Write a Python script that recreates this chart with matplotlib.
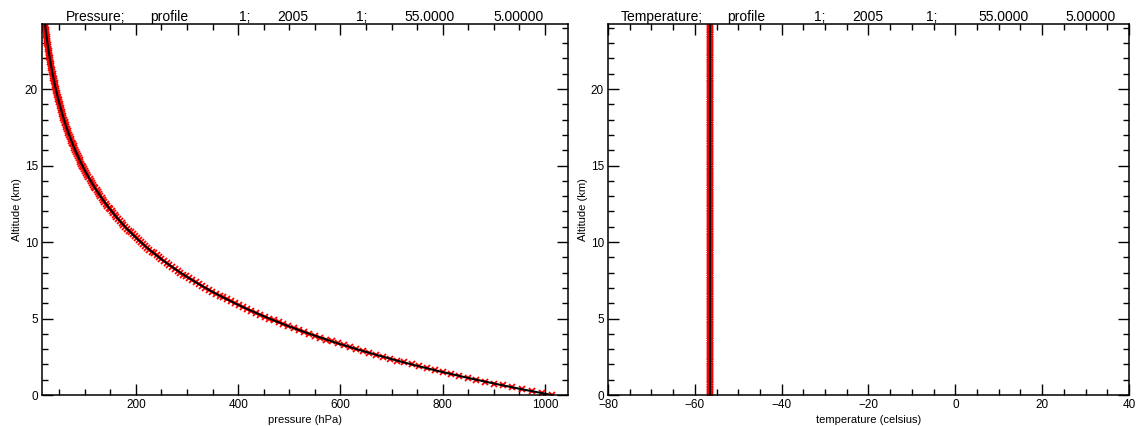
import matplotlib
matplotlib.use("Agg")
import matplotlib.pyplot as plt
from matplotlib.ticker import MultipleLocator

plt.rcParams['font.family'] = ['Liberation Sans', 'DejaVu Sans']

# profile levels (km)
altitude = [0.0, 0.125, 0.25, 0.375, 0.5, 0.625, 0.75, 0.875,
            1.0, 1.125, 1.25, 1.375, 1.5, 1.625, 1.75, 1.875,
            2.0, 2.125, 2.25, 2.375, 2.5, 2.625, 2.75, 2.875,
            3.0, 3.125, 3.25, 3.375, 3.5, 3.625, 3.75, 3.875,
            4.0, 4.125, 4.25, 4.375, 4.5, 4.625, 4.75, 4.875,
            5.0, 5.125, 5.25, 5.375, 5.5, 5.625, 5.75, 5.875,
            6.0, 6.125, 6.25, 6.375, 6.5, 6.625, 6.75, 6.875,
            7.0, 7.125, 7.25, 7.375, 7.5, 7.625, 7.75, 7.875,
            8.0, 8.125, 8.25, 8.375, 8.5, 8.625, 8.75, 8.875,
            9.0, 9.125, 9.25, 9.375, 9.5, 9.625, 9.75, 9.875,
            10.0, 10.125, 10.25, 10.375, 10.5, 10.625, 10.75, 10.875,
            11.0, 11.125, 11.25, 11.375, 11.5, 11.625, 11.75, 11.875,
            12.0, 12.125, 12.25, 12.375, 12.5, 12.625, 12.75, 12.875,
            13.0, 13.125, 13.25, 13.375, 13.5, 13.625, 13.75, 13.875,
            14.0, 14.125, 14.25, 14.375, 14.5, 14.625, 14.75, 14.875,
            15.0, 15.125, 15.25, 15.375, 15.5, 15.625, 15.75, 15.875,
            16.0, 16.125, 16.25, 16.375, 16.5, 16.625, 16.75, 16.875,
            17.0, 17.125, 17.25, 17.375, 17.5, 17.625, 17.75, 17.875,
            18.0, 18.125, 18.25, 18.375, 18.5, 18.625, 18.75, 18.875,
            19.0, 19.125, 19.25, 19.375, 19.5, 19.625, 19.75, 19.875,
            20.0, 20.125, 20.25, 20.375, 20.5, 20.625, 20.75, 20.875,
            21.0, 21.125, 21.25, 21.375, 21.5, 21.625, 21.75, 21.875,
            22.0, 22.125, 22.25, 22.375, 22.5, 22.625, 22.75, 22.875,
            23.0, 23.125, 23.25, 23.375, 23.5, 23.625, 23.75, 23.875,
            24.0, 24.125, 24.25]

pressure = [1013.25, 993.47, 974.08, 955.07, 936.42, 918.14, 900.22, 882.65,
            865.42, 848.53, 831.96, 815.72, 799.80, 784.19, 768.88, 753.87,
            739.16, 724.73, 710.58, 696.71, 683.11, 669.78, 656.71, 643.89,
            631.32, 619.00, 606.91, 595.06, 583.45, 572.06, 560.90, 549.95,
            539.21, 528.68, 518.36, 508.24, 498.33, 488.60, 479.06, 469.71,
            460.54, 451.55, 442.74, 434.10, 425.62, 417.31, 409.17, 401.18,
            393.35, 385.67, 378.14, 370.76, 363.52, 356.42, 349.47, 342.65,
            335.96, 329.40, 322.97, 316.67, 310.49, 304.43, 298.49, 292.66,
            286.95, 281.35, 275.86, 270.48, 265.19, 260.01, 254.94, 249.96,
            245.08, 240.30, 235.61, 231.01, 226.50, 222.08, 217.74, 213.49,
            209.32, 205.23, 201.23, 197.30, 193.45, 189.67, 185.97, 182.34,
            178.78, 175.29, 171.87, 168.52, 165.22, 161.99, 158.84, 155.74,
            152.70, 149.72, 146.80, 143.93, 141.12, 138.37, 135.67, 133.02,
            130.42, 127.87, 125.38, 122.93, 120.53, 118.18, 115.87, 113.61,
            111.39, 109.22, 107.08, 104.99, 102.94, 100.93, 98.96, 97.03,
            95.14, 93.28, 91.46, 89.67, 87.93, 86.21, 84.53, 82.88,
            81.26, 79.67, 78.12, 76.60, 75.10, 73.63, 72.20, 70.79,
            69.41, 68.06, 66.73, 65.43, 64.15, 62.90, 61.67, 60.47,
            59.28, 58.12, 56.99, 55.88, 54.79, 53.72, 52.67, 51.64,
            50.63, 49.64, 48.67, 47.72, 46.79, 45.88, 44.98, 44.10,
            43.24, 42.40, 41.57, 40.76, 39.96, 39.18, 38.42, 37.67,
            36.93, 36.21, 35.50, 34.81, 34.13, 33.46, 32.81, 32.17,
            31.54, 30.92, 30.32, 29.73, 29.15, 28.58, 28.02, 27.47,
            26.94, 26.41, 25.90, 25.39, 24.90, 24.41, 23.93, 23.46,
            23.01, 22.56, 22.12]

temperature = [-56.5] * len(altitude)

pres_title = ["Pressure;", "profile", "1;", "2005", "1;", "55.0000", "5.00000"]
temp_title = ["Temperature;", "profile", "1;", "2005", "1;", "55.0000", "5.00000"]
pres_title_x = [66, 150, 239, 277, 356, 404, 493]      # left edge, pixels
temp_title_x = [621, 727, 814, 852, 926, 978, 1065]

W, H = 1141, 426
fig = plt.figure(figsize=(W / 100, H / 100), dpi=100)

top, bottom = 24, 395
ax1 = fig.add_axes([42 / W, (H - bottom) / H, (568 - 42) / W, (bottom - top) / H])
ax2 = fig.add_axes([608 / W, (H - bottom) / H, (1129 - 608) / W, (bottom - top) / H])


def style(ax):
    ax.tick_params(which='both', direction='in', top=True, right=True,
                   labelsize=8.5, pad=3, width=1.0, color='black')
    ax.tick_params(which='major', length=8)
    ax.tick_params(which='minor', length=4)
    ax.yaxis.set_major_locator(MultipleLocator(5))
    ax.yaxis.set_minor_locator(MultipleLocator(1))
    ax.set_ylim(0, 24.25)
    ax.set_ylabel('Altitude (km)', fontsize=8, labelpad=1.5)
    for sp in ax.spines.values():
        sp.set_linewidth(1.1)


# pressure panel
ax1.plot(pressure, altitude, linestyle='none', marker='x', color='red',
         markersize=4.5, markeredgewidth=1.3)
ax1.plot(pressure, altitude, color='black', linewidth=1.5)
ax1.set_xlim(16.3, 1045)
ax1.xaxis.set_major_locator(MultipleLocator(200))
ax1.xaxis.set_minor_locator(MultipleLocator(50))
ax1.set_xlabel('pressure (hPa)', fontsize=8, labelpad=3)
style(ax1)

# temperature panel
ax2.plot(temperature, altitude, linestyle='none', marker='x', color='red',
         markersize=4.5, markeredgewidth=1.3)
ax2.plot(temperature, altitude, color='black', linewidth=1.5)
ax2.set_xlim(-80, 40)
ax2.xaxis.set_major_locator(MultipleLocator(20))
ax2.xaxis.set_minor_locator(MultipleLocator(5))
ax2.set_xlabel('temperature (celsius)', fontsize=8, labelpad=3)
style(ax2)

for labels, xs in ((pres_title, pres_title_x), (temp_title, temp_title_x)):
    for s, x in zip(labels, xs):
        fig.text(x / W, 1 - 17 / H, s, fontsize=10, ha='left', va='center')

fig.savefig('out.png', dpi=100)
